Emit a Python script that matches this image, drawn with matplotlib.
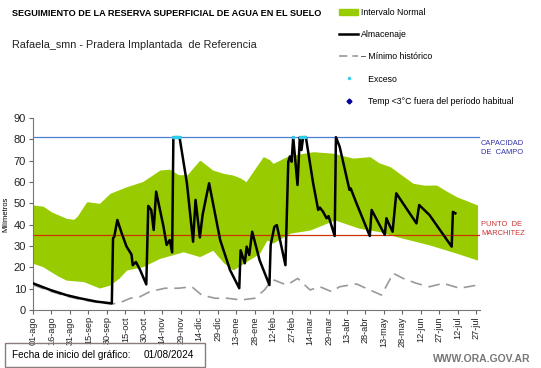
import numpy as np
import matplotlib
matplotlib.use("Agg")
from matplotlib import pyplot as plt
from matplotlib.patches import Patch, Rectangle
from matplotlib.lines import Line2D

plt.rcParams['font.family'] = ['Liberation Sans', 'DejaVu Sans']

# dias desde 01/08/2024
alm_dias = [0, 14, 27, 38, 52, 64, 65, 66, 68.5, 72, 76, 80, 81, 83.6, 87, 92,
            93.6, 96, 98, 100, 106, 108.5, 111, 113, 114, 119, 125, 130, 132,
            135.5, 137.7, 141, 143, 152, 160, 167.5, 168.6, 172, 173.5, 175.6,
            178, 184, 192, 193, 196, 198, 205, 207.3, 208.6, 210, 211.3, 214.8,
            216.7, 218, 219.4, 221.6, 227.5, 231.6, 233, 235.6, 238.4, 240, 245,
            246, 249, 257, 258, 262.7, 273.5, 275, 285.7, 287, 288.5, 292, 295,
            311.4, 313.6, 322, 327.7, 340, 341, 343]
alm_val = [12.5, 9.4, 7, 5.5, 3.9, 3.1, 33.6, 34.4, 42.2, 36, 29.7, 26, 21, 22.5,
           18.75, 12, 48.8, 46.9, 37.5, 55.5, 39, 30.5, 32.8, 27, 81, 81, 59.4,
           32, 51.6, 34, 44.5, 53.9, 59.4, 32.8, 18.75, 10.2, 28, 21.9, 29.7,
           25.8, 36.7, 23.4, 11.7, 30.5, 39, 39.8, 21, 69.5, 72, 69.5, 81, 58.6,
           81, 75, 81, 81, 59.4, 46.9, 48, 46, 43, 44, 34.7, 81, 76.6, 56.3, 57,
           50, 34.7, 46.9, 35.2, 43, 41, 36.7, 54.7, 40.6, 49.2, 44.5, 39.8,
           29.7, 46, 45.3]

sup_dias = [0, 8, 15, 27, 33, 36, 43.6, 54, 62.5, 76, 89, 103, 111, 118, 125,
            135.5, 146, 155, 162, 168, 173, 187, 192, 195, 206, 215, 227.5,
            243.6, 260, 273.5, 281, 290, 308.6, 318, 327.7, 335, 344, 361]
sup_val = [49.2, 48.7, 46, 43, 42.5, 44, 50.8, 50, 54.7, 57.8, 60.2, 65.6, 66,
           63.5, 63.3, 70.3, 65.6, 64, 63.3, 62, 60.2, 71.9, 70.5, 68.7, 71.9,
           73, 74.2, 73.5, 71.2, 71.9, 69, 67.2, 59.4, 58.5, 58.6, 56, 53.1, 49.2]

inf_dias = [0, 8, 20, 27, 41, 54, 62.5, 70, 76, 89, 103, 122, 135.5, 146, 155,
            162.5, 173, 184, 190, 195, 208.6, 225, 245, 265, 281.6, 295, 322,
            344, 361]
inf_val = [21.9, 20.3, 16, 14, 13.3, 10.3, 11.7, 15, 18.75, 20.3, 24.2, 27.3, 25,
           28, 22, 18.75, 22.6, 26.6, 32.8, 31.4, 36, 37.5, 42.2, 38.3, 36.7,
           34.4, 30.5, 26.6, 23.4]

min_dias = [0, 14, 27, 38, 52, 64, 70.6, 79, 87, 95, 107, 118, 129, 137, 148,
            158, 169, 180, 188, 192, 196, 206, 215, 225, 233, 242.5, 249, 262.7,
            273.5, 283, 292.5, 300.6, 311.4, 322, 333, 346.6, 361]
min_val = [11.8, 8.8, 6.5, 5, 3.6, 2.8, 3.4, 5.5, 6.25, 8.6, 10.2, 10.2, 10.9, 7,
           5.5, 5.5, 4.7, 5.5, 9.4, 12.5, 14, 11.7, 14.8, 9.4, 10.9, 8.6, 10.9,
           12.2, 9.4, 7, 17.2, 14.8, 12.5, 10.9, 12.5, 10.2, 11.7]

exceso_dias = [114, 115, 116, 117, 118, 119, 211, 217, 218, 219, 220, 221]

capacidad = 81
marchitez = 35

etiquetas = ['01-ago', '16-ago', '31-ago', '15-sep', '30-sep', '15-oct', '30-oct',
             '14-nov', '29-nov', '14-dic', '29-dic', '13-ene', '28-ene', '12-feb',
             '27-feb', '14-mar', '29-mar', '13-abr', '28-abr', '13-may', '28-may',
             '12-jun', '27-jun', '12-jul', '27-jul']

verde = '#99cc00'

fig = plt.figure(figsize=(5.41, 3.68), dpi=100)
ax = fig.add_axes([33/541, 1-310/368, 447/541, 192/368])

# banda normal
dd = np.arange(0, 362)
sup = np.interp(dd, sup_dias, sup_val)
inf = np.interp(dd, inf_dias, inf_val)
ax.fill_between(dd, inf, sup, color=verde, lw=0, zorder=1)

ax.axhline(capacidad, color='#4f7fd0', lw=0.9, zorder=2)
ax.axhline(marchitez, color='#cc3300', lw=0.9, zorder=2)

ax.plot(min_dias, min_val, color='#999999', lw=1.2, dashes=(7, 4), zorder=3)
ax.plot(alm_dias, alm_val, color='black', lw=1.8, zorder=4)
ax.plot(exceso_dias, [capacidad]*len(exceso_dias), 'o', color='#33ccee',
        ms=2.5, mec='none', zorder=5)

ax.set_xlim(0, 363)
ax.set_ylim(0, 90)
ax.set_yticks(range(0, 91, 10))
ax.set_xticks(np.arange(len(etiquetas))*15)
ax.set_xticklabels(etiquetas, rotation=90, fontsize=6.6, color='#222222')
ax.tick_params(axis='y', labelsize=8, length=3, color='#666666', pad=2,
               labelcolor='#222222')
ax.tick_params(axis='x', length=3, color='#666666', pad=1.5)
for s in ['top', 'right']:
    ax.spines[s].set_visible(False)
for s in ['left', 'bottom']:
    ax.spines[s].set_color('#777777')
ax.set_ylabel('Milímetros', fontsize=5.5, labelpad=3)

fig.text(481/541, 1-148/368, 'CAPACIDAD\nDE  CAMPO', color='#3333aa',
         fontsize=5.4, va='center', ha='left', linespacing=1.45)
fig.text(481/541, 1-229/368, 'PUNTO  DE\nMARCHITEZ', color='#cc3333',
         fontsize=5.4, va='center', ha='left', linespacing=1.45)

fig.text(12/541, 1-14/368, 'SEGUIMIENTO DE LA RESERVA SUPERFICIAL DE AGUA EN EL SUELO',
         fontsize=6.6, fontweight='bold', va='center')
fig.text(12/541, 1-45/368, 'Rafaela_smn - Pradera Implantada  de Referencia',
         fontsize=7.8, va='center', color='#222222')

handles = [Patch(color=verde),
           Line2D([], [], color='black', lw=1.8),
           Line2D([], [], color='#999999', lw=1.2, dashes=(5, 3)),
           Line2D([], [], ls='none', marker='o', color='#33ccee', ms=2.5, mec='none'),
           Line2D([], [], ls='none', marker='D', color='#000099', ms=2.5)]
labels = ['Intervalo Normal', 'Almacenaje', '– Mínimo histórico', '   Exceso',
          '   Temp <3°C fuera del período habitual']
fig.legend(handles, labels, loc='upper left', bbox_to_anchor=(333/541, 1-2/368),
           frameon=False, fontsize=6.3, labelspacing=1.5, handlelength=2.2,
           handletextpad=0.3, borderpad=0.2)

fig.patches.append(Rectangle((5/541, 1-367/368), 200/541, 24/368,
                             transform=fig.transFigure, fill=False,
                             ec='#8c7b7b', lw=1))
fig.text(12/541, 1-355/368, 'Fecha de inicio del gráfico:',
         fontsize=7.2, va='center')
fig.text(144/541, 1-355/368, '01/08/2024', fontsize=7.2, va='center')
fig.text(530/541, 1-359/368, 'WWW.ORA.GOV.AR', fontsize=7.5, fontweight='bold',
         color='#777777', ha='right', va='center')

fig.savefig('out.png', dpi=100)
